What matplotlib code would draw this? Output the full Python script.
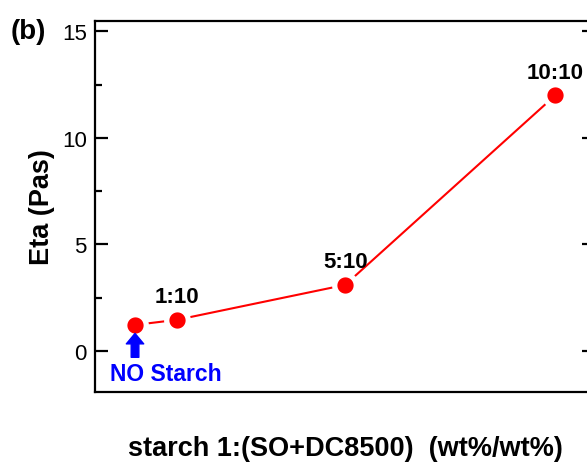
import numpy as np
import matplotlib.pyplot as plt
from matplotlib.ticker import MultipleLocator

plt.rcParams['font.family'] = ['Liberation Sans', 'DejaVu Sans']

# starch fraction (parts starch per 10 parts SO+DC8500)
starch = [0, 1, 5, 10]
eta = [1.22, 1.46, 3.1, 12.0]
labels = ["", "1:10", "5:10", "10:10"]

fig = plt.figure(figsize=(5.87, 4.64), dpi=100)
ax = fig.add_axes([0.162, 0.153, 0.852, 0.80])

# white marker edge leaves a small gap between line and dots
ax.plot(starch, eta, '-o', color='red', lw=1.5, ms=15.5, mfc='red', mec='white', mew=3.8)

for x, y, lab in zip(starch, eta, labels):
    if lab:
        ax.annotate(lab, (x, y), xytext=(0, 9), textcoords='offset points',
                    ha='center', va='bottom', fontsize=16, fontweight='bold')

# arrow pointing at the pure sample
ax.annotate("", xy=(starch[0], 0.82), xytext=(starch[0], -0.3),
            arrowprops=dict(arrowstyle='simple,head_width=1.25,head_length=0.75,tail_width=0.55',
                            mutation_scale=10, color='blue', shrinkA=0, shrinkB=0))
ax.text(starch[0] - 0.6, -1.08, "NO Starch", color='blue',
        fontsize=16.5, fontweight='bold', ha='left', va='center')

ax.set_xlim(-0.95, 10.95)
ax.set_ylim(-1.93, 15.5)
ax.set_xticks([])
ax.yaxis.set_major_locator(MultipleLocator(5))
ax.yaxis.set_minor_locator(MultipleLocator(2.5))
ax.tick_params(axis='y', which='both', direction='in', right=True, width=1.6)
ax.tick_params(axis='y', which='major', length=9.5, labelsize=16, pad=6)
ax.tick_params(axis='y', which='minor', length=5)
for s in ax.spines.values():
    s.set_linewidth(1.6)

ax.set_ylabel("Eta (Pas)", fontsize=19.5, fontweight='bold', labelpad=5)
ax.set_xlabel("starch 1:(SO+DC8500)  (wt%/wt%)", fontsize=19.5, fontweight='bold', labelpad=31)
fig.text(0.018, 0.93, "(b)", fontsize=20, fontweight='bold', va='center')

fig.savefig("out.png", dpi=100)
